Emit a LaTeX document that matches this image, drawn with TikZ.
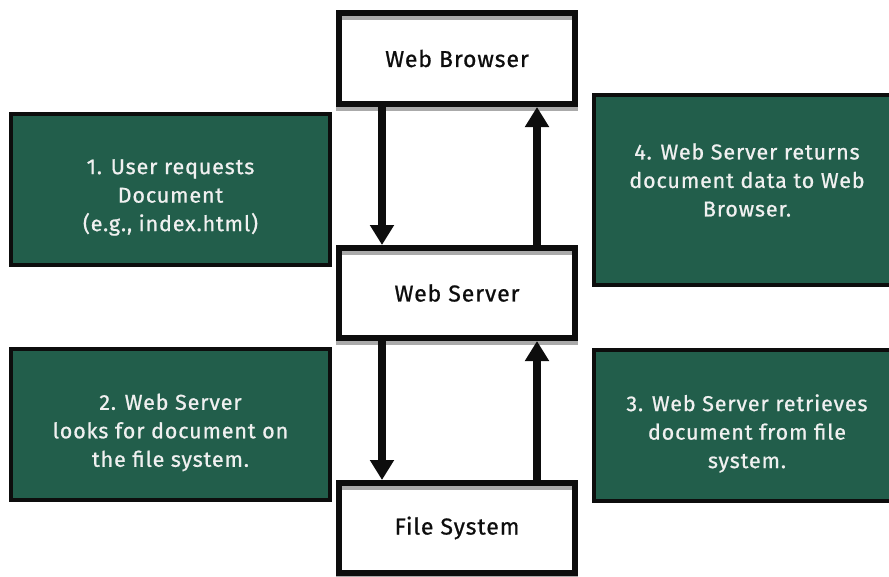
\documentclass[tikz,border=0pt]{standalone}
\usepackage{fontspec}
\setmainfont{Fira Sans}[LetterSpace=4, FakeBold=0.8]
\usetikzlibrary{arrows.meta}
\definecolor{boxgreen}{HTML}{225E4B}
\definecolor{shadowgray}{HTML}{AAAAAA}
\tikzset{
  whitebox/.style={draw=black!95, line width=6pt, fill=white, minimum width=236pt,
    minimum height=90pt, inner sep=0pt, font=\fontsize{23}{26}\selectfont, text=black!95},
  greenbox/.style={draw=black!95, line width=4pt, fill=boxgreen, inner sep=0pt},
  greentext/.style={align=center, text=white!94!black, font=\fontsize{21.5}{28.5}\selectfont},
  grayline/.style={draw=shadowgray, line width=4pt},
  flow/.style={draw=black!95, line width=8pt, -{Triangle[width=23pt,length=20pt]}, shorten >=0pt},
}
\begin{document}
\begin{tikzpicture}[x=1pt,y=-1pt]
\useasboundingbox (0,0) rectangle (889,576);
\clip (0,0) rectangle (889,576);
% white boxes
\node[whitebox, minimum height=91pt] (wb) at (457,58.5) {Web Browser};
\node[whitebox] (ws) at (457,293) {Web Server};
\node[whitebox] (fs) at (457,528) {File System};
\foreach \n in {wb,ws,fs}{
  \draw[grayline] ([xshift=6pt,yshift=-8pt]\n.north west) -- ([xshift=-6pt,yshift=-8pt]\n.north east);
  \draw[grayline] ([yshift=-2pt]\n.south west) -- ([yshift=-2pt]\n.south east);
}
% green boxes
\node[greenbox, minimum width=319pt, minimum height=151pt,
  label={[greentext, yshift=-8pt]center:1. User requests\\Document\\(e.g., index.html)}] (s1) at (170.5,189.5) {};
\node[greenbox, minimum width=319pt, minimum height=151pt,
  label={[greentext, yshift=-8pt]center:2. Web Server\\looks for document on\\the file system.}] (s2) at (170.5,424.5) {};
\node[greenbox, minimum width=306pt, minimum height=190pt,
  label={[greentext, yshift=10pt]center:4. Web Server returns\\document data to Web\\Browser.}] (s4) at (747,190) {};
\node[greenbox, minimum width=306pt, minimum height=151pt,
  label={[greentext, yshift=-8pt]center:3. Web Server retrieves\\document from file\\system.}] (s3) at (747,425.5) {};
% arrows
\draw[flow] (wb.south -| 382,0) -- (ws.north -| 382,0);
\draw[flow] (ws.north -| 537,0) -- (wb.south -| 537,0);
\draw[flow] (ws.south -| 382,0) -- (fs.north -| 382,0);
\draw[flow] (fs.north -| 537,0) -- (ws.south -| 537,0);
\end{tikzpicture}
\end{document}
